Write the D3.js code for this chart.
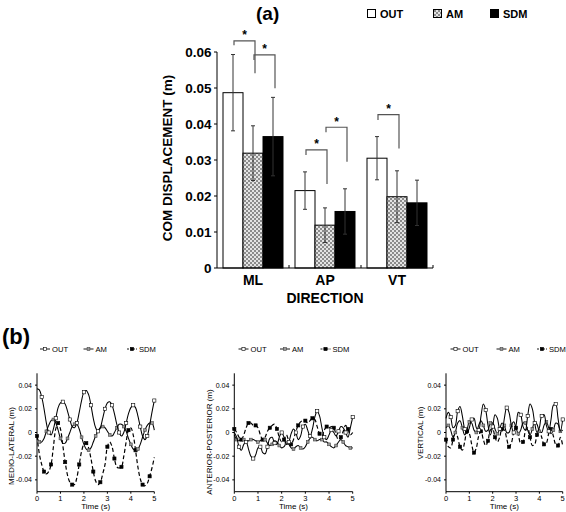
<!DOCTYPE html>
<html><head><meta charset="utf-8">
<script src="https://cdn.jsdelivr.net/npm/d3@7"></script>
<style>body{margin:0;background:#fff}svg{display:block}</style>
</head><body>
<svg id="c" width="566" height="512"></svg>
<script>
// ---------- Panel (a) data ----------
const directions = ["ML", "AP", "VT"];
const conditions = ["OUT", "AM", "SDM"];
const meanOUT = [0.0487, 0.0215, 0.0305];
const meanAM  = [0.0319, 0.0119, 0.0198];
const meanSDM = [0.0365, 0.0157, 0.0181];
const errOUT = [0.0106, 0.0052, 0.0060];
const errAM  = [0.0076, 0.0048, 0.0072];
const errSDM = [0.0109, 0.0063, 0.0063];
const yTicksA = [0, 0.01, 0.02, 0.03, 0.04, 0.05, 0.06];
const yTickLabelsA = ["0", "0.01", "0.02", "0.03", "0.04", "0.05", "0.06"];
// significance brackets: direction, from condition, to condition, top level, left leg end, right leg end
const sigDir   = ["ML", "ML", "AP", "AP", "VT"];
const sigFrom  = ["OUT", "AM", "OUT", "AM", "OUT"];
const sigTo    = ["AM", "SDM", "AM", "SDM", "AM"];
const sigTop   = [0.0631, 0.0592, 0.0328, 0.0391, 0.0426];
const sigLeft  = [0.0619, 0.0578, 0.0314, 0.0377, 0.0411];
const sigRight = [0.0541, 0.0499, 0.0233, 0.0295, 0.0332];

// ---------- Panel (b) data ----------
const timeS = d3.range(51).map(i => i / 10);
const mlOUT = [0.037,0.036,0.030,0.020,0.008,0.000,-0.002,0.003,0.012,0.021,0.025,0.026,0.024,0.018,0.011,0.005,0.004,0.008,0.017,0.027,0.034,0.0355,0.032,0.023,0.012,0.004,0.001,0.004,0.012,0.020,0.025,0.026,0.023,0.016,0.007,0.000,-0.003,0.000,0.008,0.016,0.021,0.023,0.021,0.014,0.005,-0.003,-0.006,-0.003,0.006,0.017,0.027];
const mlAM  = [-0.003,-0.008,-0.008,-0.005,0.001,0.006,0.010,0.011,0.008,0.002,-0.005,-0.009,-0.009,-0.005,0.000,0.005,0.007,0.007,0.003,-0.004,-0.010,-0.014,-0.015,-0.013,-0.008,-0.003,0.001,0.004,0.005,0.004,0.001,-0.002,-0.003,0.000,0.004,0.007,0.007,0.005,0.001,-0.005,-0.010,-0.014,-0.015,-0.014,-0.010,-0.004,0.002,0.006,0.008,0.008,0.002];
const mlSDM = [-0.003,-0.018,-0.027,-0.033,-0.035,-0.033,-0.027,-0.012,0.003,0.008,0.003,-0.011,-0.025,-0.036,-0.042,-0.044,-0.044,-0.038,-0.027,-0.016,-0.010,-0.009,-0.013,-0.022,-0.033,-0.041,-0.044,-0.042,-0.035,-0.027,-0.012,-0.008,-0.012,-0.022,-0.029,-0.030,-0.029,-0.020,-0.008,0.002,0.004,-0.002,-0.015,-0.029,-0.039,-0.044,-0.045,-0.043,-0.037,-0.030,-0.021];
const apOUT = [0.000,-0.004,-0.012,-0.015,-0.010,-0.008,-0.014,-0.020,-0.022,-0.019,-0.013,-0.012,-0.017,-0.018,-0.012,-0.005,-0.004,-0.009,-0.010,-0.004,0.000,-0.004,-0.010,-0.008,-0.001,0.003,0.000,-0.006,-0.003,0.005,0.007,0.002,-0.003,0.003,0.013,0.018,0.014,0.004,-0.004,-0.006,-0.002,0.002,0.000,-0.003,0.001,0.005,0.004,0.000,-0.004,0.004,0.013];
const apAM  = [-0.002,-0.006,-0.007,-0.005,-0.006,-0.008,-0.007,-0.006,-0.006,-0.007,-0.008,-0.007,-0.005,-0.006,-0.009,-0.011,-0.010,-0.007,-0.008,-0.011,-0.013,-0.012,-0.009,-0.010,-0.013,-0.014,-0.012,-0.011,-0.013,-0.014,-0.012,-0.008,-0.005,-0.004,-0.006,-0.007,-0.006,-0.006,-0.008,-0.008,-0.010,-0.012,-0.013,-0.011,-0.008,-0.006,-0.008,-0.011,-0.012,-0.013,-0.013];
const apSDM = [0.003,0.000,-0.004,-0.006,-0.002,0.004,0.008,0.008,0.006,0.006,0.004,-0.002,-0.006,-0.004,0.001,0.004,0.006,0.007,0.003,-0.004,-0.008,-0.006,-0.002,-0.007,-0.010,-0.006,0.001,0.006,0.009,0.010,0.010,0.008,0.010,0.012,0.011,0.005,-0.001,-0.003,0.002,0.005,0.004,0.005,0.004,-0.002,-0.006,-0.004,0.001,0.006,0.003,-0.002,0.000];
const vtOUT = [0.012,0.017,0.013,0.004,0.006,0.018,0.022,0.014,0.003,-0.001,0.004,0.011,0.012,0.004,0.002,0.014,0.024,0.019,0.006,-0.002,0.005,0.015,0.012,0.003,0.001,0.012,0.021,0.017,0.006,0.000,0.006,0.017,0.015,0.005,0.002,0.014,0.024,0.020,0.008,0.000,0.004,0.014,0.015,0.006,0.001,0.011,0.023,0.024,0.012,0.001,0.011];
const vtAM  = [0.004,0.006,0.002,-0.004,0.000,0.008,0.010,0.004,-0.002,0.002,0.009,0.008,0.002,0.000,0.006,0.010,0.006,0.001,0.002,0.008,0.008,0.003,-0.001,0.003,0.008,0.006,0.000,0.000,0.006,0.009,0.004,-0.001,0.002,0.008,0.008,0.002,-0.002,0.003,0.009,0.007,0.001,0.000,0.006,0.009,0.004,-0.001,0.002,0.008,0.007,0.001,0.002];
const vtSDM = [-0.006,-0.012,-0.013,-0.006,0.001,-0.004,-0.012,-0.015,-0.008,0.001,-0.001,-0.010,-0.017,-0.013,-0.003,0.001,-0.006,-0.011,-0.007,0.002,0.003,-0.004,-0.008,-0.004,0.003,0.002,-0.005,-0.012,-0.009,0.000,0.004,-0.002,-0.009,-0.008,0.001,0.004,-0.004,-0.011,-0.010,-0.002,0.002,-0.004,-0.010,-0.009,-0.001,0.003,-0.003,-0.010,-0.011,-0.004,-0.011];
const yTicksB = [-0.04, -0.02, 0, 0.02, 0.04];
const yTickLabelsB = ["-0.04", "-0.02", "0", "0.02", "0.04"];
const xTicksB = [0, 1, 2, 3, 4, 5];
const panelTitles = ["MEDIO-LATERAL (m)", "ANTERIOR-POSTERIOR (m)", "VERTICAL (m)"];

// ---------- Drawing ----------
const svg = d3.select("#c");
const FA = "'Liberation Sans', Arial, Helvetica, sans-serif";
svg.append("rect").attr("width", 566).attr("height", 512).attr("fill", "#fff");

const defs = svg.append("defs");
const pat = defs.append("pattern").attr("id", "hatch").attr("patternUnits", "userSpaceOnUse")
  .attr("width", 4).attr("height", 4);
pat.append("rect").attr("width", 4).attr("height", 4).attr("fill", "#e4e4e4");
pat.append("rect").attr("width", 2).attr("height", 2).attr("fill", "#8c8c8c");
pat.append("rect").attr("x", 2).attr("y", 2).attr("width", 2).attr("height", 2).attr("fill", "#8c8c8c");

const fills = { OUT: "#fff", AM: "url(#hatch)", SDM: "#000" };
const means = { OUT: meanOUT, AM: meanAM, SDM: meanSDM };
const errs = { OUT: errOUT, AM: errAM, SDM: errSDM };

const xA = d3.scaleBand().domain(directions).range([217, 433]).padding(0);
const xSub = d3.scaleBand().domain(conditions).range([0, xA.bandwidth()]).paddingInner(0).paddingOuter(0.3);
const yA = d3.scaleLinear().domain([0, 0.06]).range([268, 52]);

const gA = svg.append("g");
// title
gA.append("text").attr("x", 256).attr("y", 20).attr("font-family", FA).attr("font-weight", "bold")
  .attr("font-size", 19).text("(a)");

// legend
const legX = { OUT: 367, AM: 433, SDM: 490 };
conditions.forEach(c => {
  gA.append("rect").attr("x", legX[c] + 0.5).attr("y", 9.5).attr("width", 8).attr("height", 8)
    .attr("fill", fills[c]).attr("stroke", "#000").attr("stroke-width", 1);
  gA.append("text").attr("x", legX[c] + 13).attr("y", 17.5).attr("font-family", FA)
    .attr("font-weight", "bold").attr("font-size", 11).text(c);
});

// bars
directions.forEach((d, i) => {
  conditions.forEach(c => {
    const x0 = xA(d) + xSub(c);
    gA.append("rect").attr("x", x0).attr("y", yA(means[c][i]))
      .attr("width", xSub.bandwidth()).attr("height", yA(0) - yA(means[c][i]))
      .attr("fill", fills[c]).attr("stroke", "#000").attr("stroke-width", 1);
  });
});
// error bars
directions.forEach((d, i) => {
  conditions.forEach(c => {
    const cx = xA(d) + xSub(c) + xSub.bandwidth() / 2;
    const m = means[c][i], e = errs[c][i];
    const col = "#333";
    gA.append("line").attr("x1", cx).attr("x2", cx).attr("y1", yA(m + e)).attr("y2", yA(m - e))
      .attr("stroke", col).attr("stroke-width", 1);
    [m + e, m - e].forEach(v => gA.append("line").attr("x1", cx - 2).attr("x2", cx + 2)
      .attr("y1", yA(v)).attr("y2", yA(v)).attr("stroke", col).attr("stroke-width", 1));
  });
});
// significance brackets
sigDir.forEach((d, k) => {
  const xl = xA(d) + xSub(sigFrom[k]) + xSub.bandwidth() / 2 + 1;
  const xr = xA(d) + xSub(sigTo[k]) + xSub.bandwidth() / 2 + 2;
  gA.append("path")
    .attr("d", `M${xl},${yA(sigLeft[k])}V${yA(sigTop[k])}H${xr}V${yA(sigRight[k])}`)
    .attr("fill", "none").attr("stroke", "#555").attr("stroke-width", 1.2);
  gA.append("text").attr("x", (xl + xr) / 2).attr("y", yA(sigTop[k]) - 1.5).attr("text-anchor", "middle")
    .attr("font-family", FA).attr("font-weight", "bold").attr("font-size", 12).text("*");
});

// axes (a)
const axA = gA.append("g");
axA.append("line").attr("x1", 217).attr("x2", 217).attr("y1", yA(0.06)).attr("y2", yA(0))
  .attr("stroke", "#000").attr("stroke-width", 1);
axA.append("line").attr("x1", 217).attr("x2", 433).attr("y1", yA(0)).attr("y2", yA(0))
  .attr("stroke", "#000").attr("stroke-width", 1);
yTicksA.forEach((t, i) => {
  axA.append("line").attr("x1", 214).attr("x2", 217).attr("y1", yA(t)).attr("y2", yA(t))
    .attr("stroke", "#000");
  axA.append("text").attr("x", 211.5).attr("y", yA(t)).attr("dy", "0.36em").attr("text-anchor", "end")
    .attr("font-family", FA).attr("font-weight", "bold").attr("font-size", 13.5).text(yTickLabelsA[i]);
});
directions.forEach(d => {
  const xe = xA(d) + xA.bandwidth();
  axA.append("line").attr("x1", xe).attr("x2", xe).attr("y1", yA(0)).attr("y2", yA(0) - 3).attr("stroke", "#000");
  axA.append("text").attr("x", xA(d) + xA.bandwidth() / 2).attr("y", 285).attr("text-anchor", "middle")
    .attr("font-family", FA).attr("font-weight", "bold").attr("font-size", 14).text(d);
});
axA.append("text").attr("x", 325).attr("y", 303).attr("text-anchor", "middle")
  .attr("font-family", FA).attr("font-weight", "bold").attr("font-size", 14).text("DIRECTION");
axA.append("text").attr("transform", "translate(172,158) rotate(-90)").attr("text-anchor", "middle")
  .attr("font-family", FA).attr("font-weight", "bold").attr("font-size", 13.5).text("COM DISPLACEMENT (m)");

// ---------- Panel (b) ----------
svg.append("text").attr("x", 2).attr("y", 344).attr("font-family", FA).attr("font-weight", "bold")
  .attr("font-size", 22).text("(b)");

const panels = [
  { x0: 37, x1: 154.3, data: [mlOUT, mlAM, mlSDM], title: panelTitles[0], tx: 14, ty: 446, leg: [40, 83.5, 127] },
  { x0: 234.3, x1: 352.7, data: [apOUT, apAM, apSDM], title: panelTitles[1], tx: 212, ty: 442, leg: [238.5, 280, 320.5] },
  { x0: 446, x1: 562.7, data: [vtOUT, vtAM, vtSDM], title: panelTitles[2], tx: 423, ty: 433, leg: [450.5, 496.5, 537] }
];
const styles = [
  { dash: null, mfill: "#fff", mstroke: "#000", ms: 3.2, off: 1 },
  { dash: null, mfill: "#999", mstroke: "#444", ms: 2.8, off: 2 },
  { dash: "4,2.5", mfill: "#000", mstroke: "#000", ms: 3.2, off: 0 }
];
const FB = "Arial, 'Liberation Sans', Helvetica, sans-serif";

panels.forEach(p => {
  const g = svg.append("g");
  const x = d3.scaleLinear().domain([0, 5]).range([p.x0, p.x1]);
  const y = d3.scaleLinear().domain([-0.05, 0.05]).range([491.7, 373.3]);
  // axes
  g.append("line").attr("x1", p.x0).attr("x2", p.x0).attr("y1", y(0.05)).attr("y2", y(-0.05)).attr("stroke", "#000");
  g.append("line").attr("x1", p.x0).attr("x2", p.x1).attr("y1", y(-0.05)).attr("y2", y(-0.05)).attr("stroke", "#000");
  yTicksB.forEach((t, i) => {
    g.append("line").attr("x1", p.x0 - 2).attr("x2", p.x0).attr("y1", y(t)).attr("y2", y(t)).attr("stroke", "#000");
    g.append("text").attr("x", p.x0 - 5).attr("y", y(t)).attr("dy", "0.35em").attr("text-anchor", "end")
      .attr("font-family", FB).attr("font-size", 7).text(yTickLabelsB[i]);
  });
  xTicksB.forEach(t => {
    g.append("line").attr("x1", x(t)).attr("x2", x(t)).attr("y1", y(-0.05)).attr("y2", y(-0.05) + 2).attr("stroke", "#000");
    g.append("text").attr("x", x(t)).attr("y", 500.5).attr("text-anchor", "middle")
      .attr("font-family", FB).attr("font-size", 7.5).text(t);
  });
  g.append("text").attr("x", (p.x0 + p.x1) / 2).attr("y", 509).attr("text-anchor", "middle")
    .attr("font-family", FB).attr("font-size", 8).text("Time (s)");
  g.append("text").attr("transform", `translate(${p.tx},${p.ty}) rotate(-90)`).attr("text-anchor", "middle")
    .attr("font-family", FB).attr("font-size", 8).text(p.title);

  // series
  const line = d3.line().x((d, i) => x(timeS[i])).y(d => y(d)).curve(d3.curveCatmullRom);
  [2, 1, 0].forEach(si => {
    const s = styles[si];
    g.append("path").attr("d", line(p.data[si])).attr("fill", "none").attr("stroke", "#000")
      .attr("stroke-width", si === 2 ? 1.2 : 1.05).attr("stroke-dasharray", s.dash);
    p.data[si].forEach((v, i) => {
      if ((i + s.off) % 3 !== 0) return;
      g.append("rect").attr("x", x(timeS[i]) - s.ms / 2).attr("y", y(v) - s.ms / 2)
        .attr("width", s.ms).attr("height", s.ms).attr("fill", s.mfill).attr("stroke", s.mstroke).attr("stroke-width", 0.6);
    });
  });

  // legend
  conditions.forEach((c, ci) => {
    const s = styles[ci];
    const lx = p.leg[ci];
    g.append("line").attr("x1", lx).attr("x2", lx + 10).attr("y1", 349).attr("y2", 349)
      .attr("stroke", "#000").attr("stroke-width", 0.9).attr("stroke-dasharray", s.dash ? "2,1" : null);
    g.append("rect").attr("x", lx + 5 - s.ms / 2).attr("y", 349 - s.ms / 2).attr("width", s.ms).attr("height", s.ms)
      .attr("fill", s.mfill).attr("stroke", s.mstroke).attr("stroke-width", 0.6);
    g.append("text").attr("x", lx + 12).attr("y", 351.7).attr("font-family", FB).attr("font-size", 7.6).text(c);
  });
});
</script>
</body></html>
